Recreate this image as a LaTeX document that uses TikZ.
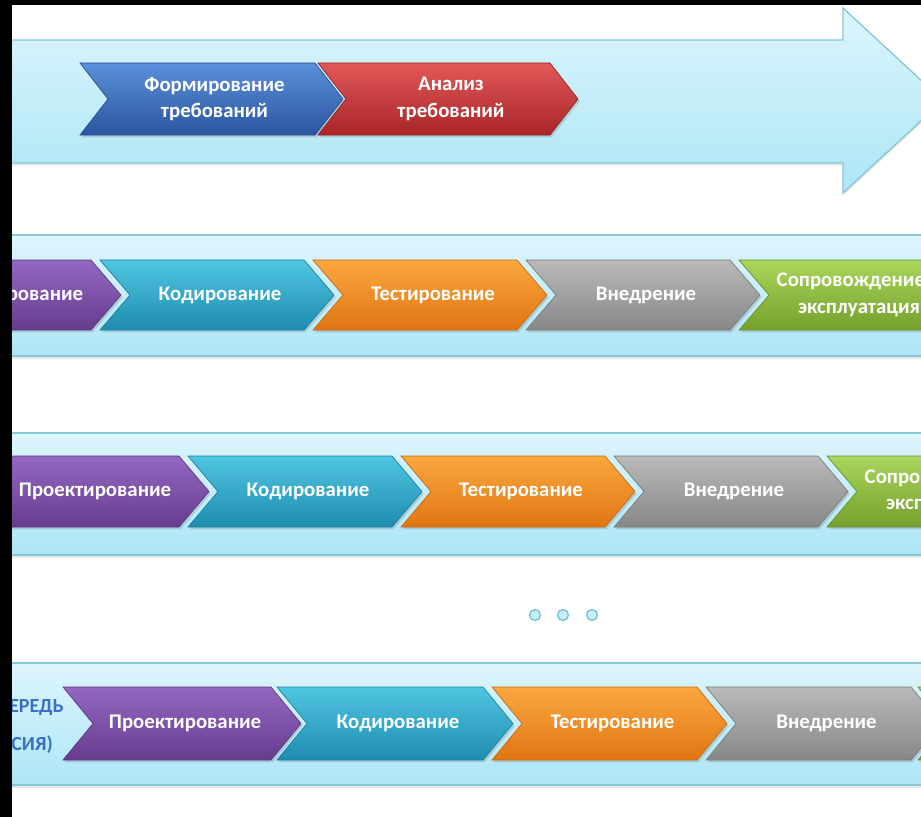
\documentclass[tikz,border=0pt]{standalone}
\usepackage{fontspec}
\setmainfont{Carlito}
\usetikzlibrary{shadows}
\definecolor{bandtop}{HTML}{DDF5FC}
\definecolor{bandbot}{HTML}{ACE6F7}
\definecolor{bandline}{HTML}{86C9D4}
\definecolor{qblue}{HTML}{3A6FC2}
\definecolor{dotline}{HTML}{6BBFD0}
\definecolor{dotfill}{HTML}{C9EEF8}
\tikzset{
  x=0.75pt, y=-0.75pt,
  band/.style={top color=bandtop, bottom color=bandbot, draw=bandline, line width=1.3pt,
    drop shadow={opacity=0.18, shadow xshift=0pt, shadow yshift=-2pt}},
  chevbase/.style={line width=0.5pt,
    drop shadow={opacity=0.3, shadow xshift=1.2pt, shadow yshift=-1.8pt}},
  lbl/.style={text=white, font=\bfseries\fontsize{15.6}{20}\selectfont, align=center, inner sep=0pt},
  qtext/.style={text=qblue, font=\bfseries\fontsize{15}{17}\selectfont, inner sep=0pt, anchor=east},
  dotc/.style={circle, draw=dotline, fill=dotfill, line width=0.9pt, minimum size=8.2pt, inner sep=0pt},
}
% chevron colours: top / bottom / edge
\definecolor{bluT}{HTML}{5B8FDB}\definecolor{bluB}{HTML}{2B569F}\definecolor{bluE}{HTML}{2A4F90}
\definecolor{redT}{HTML}{E25858}\definecolor{redB}{HTML}{A82628}\definecolor{redE}{HTML}{952022}
\definecolor{purT}{HTML}{9468C2}\definecolor{purB}{HTML}{663C8E}\definecolor{purE}{HTML}{5C3582}
\definecolor{cyaT}{HTML}{4FC6E2}\definecolor{cyaB}{HTML}{1E8CAE}\definecolor{cyaE}{HTML}{1A7E9E}
\definecolor{oraT}{HTML}{FBA83E}\definecolor{oraB}{HTML}{E07512}\definecolor{oraE}{HTML}{C9680F}
\definecolor{graT}{HTML}{BABABA}\definecolor{graB}{HTML}{878787}\definecolor{graE}{HTML}{7A7A7A}
\definecolor{greT}{HTML}{AAD65C}\definecolor{greB}{HTML}{74A02C}\definecolor{greE}{HTML}{679027}
\tikzset{
  cblue/.style={chevbase, draw=bluE, top color=bluT, bottom color=bluB},
  cred/.style={chevbase, draw=redE, top color=redT, bottom color=redB},
  cpur/.style={chevbase, draw=purE, top color=purT, bottom color=purB},
  ccya/.style={chevbase, draw=cyaE, top color=cyaT, bottom color=cyaB},
  cora/.style={chevbase, draw=oraE, top color=oraT, bottom color=oraB},
  cgra/.style={chevbase, draw=graE, top color=graT, bottom color=graB},
  cgre/.style={chevbase, draw=greE, top color=greT, bottom color=greB},
}
\def\cd{30}
% #1 name, #2 left, #3 top, #4 bottom, #5 width, #6 style, #7 text
\newcommand{\mkchev}[7]{%
  \path[#6] (#2,#3) -- ({#2+#5-\cd},#3) -- ({#2+#5},{(#3+#4)/2}) -- ({#2+#5-\cd},#4)
     -- (#2,#4) -- ({#2+\cd},{(#3+#4)/2}) -- cycle;
  \node[lbl] (#1) at ({#2+#5/2+3},{(#3+#4)/2}) {#7};
}
\begin{document}
\begin{tikzpicture}
\useasboundingbox (0,0) rectangle (921,817);
\fill[black] (0,0) rectangle (921,817);
\begin{scope}
\clip (12,6) rectangle (921,817);
\fill[white] (0,0) rectangle (921,817);
% top arrow
\path[band, line width=1pt] (-20,40) -- (843,40) -- (843,8) -- (943,100.5) -- (843,193) -- (843,163) -- (-20,163) -- cycle;
% bands
\path[band] (-20,235) rectangle (950,356);
\path[band] (-20,433) rectangle (950,555);
\path[band] (-20,663) rectangle (950,785);
% row 1
\def\cd{28}
\mkchev{a1}{80}{63}{135}{263}{cblue}{Формирование\\требований}
\mkchev{a2}{318}{63}{135}{260}{cred}{Анализ\\требований}
% row 2
\def\cd{30}
\mkchev{b1}{-113}{260}{330}{234}{cpur}{Проектирование}
\mkchev{b2}{100}{260}{330}{234}{ccya}{Кодирование}
\mkchev{b3}{313}{260}{330}{234}{cora}{Тестирование}
\mkchev{b4}{526}{260}{330}{234}{cgra}{Внедрение}
\mkchev{b5}{739}{260}{330}{234}{cgre}{Сопровождение и\\эксплуатация}
% row 3
\mkchev{c1}{-25}{456}{527}{234}{cpur}{Проектирование}
\mkchev{c2}{188}{456}{527}{234}{ccya}{Кодирование}
\mkchev{c3}{401}{456}{527}{234}{cora}{Тестирование}
\mkchev{c4}{614}{456}{527}{234}{cgra}{Внедрение}
\mkchev{c5}{827}{456}{527}{234}{cgre}{Сопровождение и\\эксплуатация}
% dots
\node[dotc] (d1) at (535,615) {};
\node[dotc] (d2) at (563,615) {};
\node[dotc] (d3) at (592,615) {};
% row 4
\node[qtext] (q1) at (64,707) {ОЧЕРЕДЬ};
\node[qtext] (q2) at (53,745) {(ВЕРСИЯ)};
\mkchev{e1}{63}{687}{760}{238}{cpur}{Проектирование}
\mkchev{e2}{277}{687}{760}{236}{ccya}{Кодирование}
\mkchev{e3}{492}{687}{760}{235}{cora}{Тестирование}
\mkchev{e4}{706}{687}{760}{235}{cgra}{Внедрение}
\mkchev{e5}{918}{687}{760}{235}{cgre}{Сопровождение и\\эксплуатация}
\end{scope}
\end{tikzpicture}
\end{document}
